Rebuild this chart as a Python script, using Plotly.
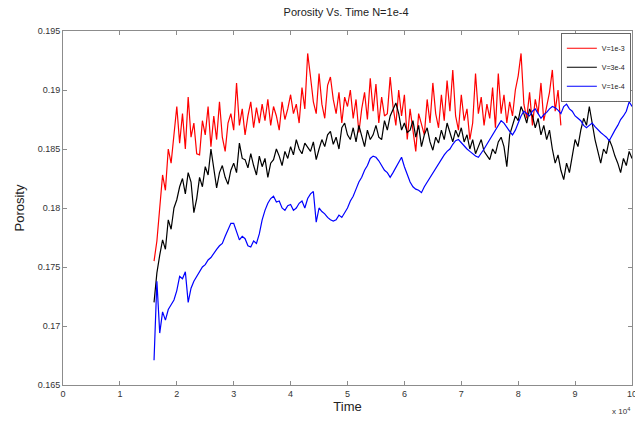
import numpy as np
import plotly.graph_objects as go

# Time grid (in units of 1e4), step 0.05
time_all = [round(1.60 + 0.05 * i, 2) for i in range(169)]   # 1.60 .. 10.00
time_red = time_all[:144]                                      # 1.60 .. 8.75

por_v1e3 = [
    0.1755, 0.1772, 0.1800, 0.1828, 0.1815, 0.1850, 0.1838, 0.1862,
    0.1886, 0.1855, 0.1880, 0.1850, 0.1894, 0.1860, 0.1872, 0.1846, 0.1845, 0.1874,
    0.1862, 0.1886, 0.1852, 0.1878, 0.1858, 0.1890, 0.1860, 0.1848, 0.1872, 0.1880,
    0.1866, 0.1906, 0.1870, 0.1884, 0.1862, 0.1878, 0.1890, 0.1868, 0.1885, 0.1872,
    0.1888, 0.1874, 0.1892, 0.1870, 0.1886, 0.1878, 0.1866, 0.1890, 0.1875, 0.1884,
    0.1896, 0.1880, 0.1888, 0.1872, 0.1902, 0.1884, 0.1931, 0.1911, 0.1890, 0.1880,
    0.1914, 0.1888, 0.1876, 0.1904, 0.1911, 0.1892, 0.1880, 0.1898, 0.1872, 0.1894,
    0.1886, 0.1900, 0.1876, 0.1892, 0.1864, 0.1884, 0.1898, 0.1875, 0.1910, 0.1882,
    0.1905, 0.1872, 0.1894, 0.1878, 0.1880, 0.1911, 0.1886, 0.1870, 0.1900, 0.1878,
    0.1896, 0.1858, 0.1884, 0.1866, 0.1848, 0.1880, 0.1870, 0.1862, 0.1892, 0.1872,
    0.1906, 0.1880, 0.1868, 0.1896, 0.1874, 0.1908, 0.1882, 0.1917, 0.1878, 0.1866,
    0.1896, 0.1874, 0.1884, 0.1858, 0.1872, 0.1914, 0.1880, 0.1894, 0.1870, 0.1888,
    0.1876, 0.1902, 0.1868, 0.1914, 0.1880, 0.1896, 0.1872, 0.1890, 0.1878, 0.1900,
    0.1912, 0.1931, 0.1888, 0.1876, 0.1898, 0.1870, 0.1892, 0.1880, 0.1906, 0.1874,
    0.1886, 0.1898, 0.1917, 0.1882, 0.1900, 0.1870,
]

por_v3e4 = [
    0.1720, 0.1745, 0.1760, 0.1773, 0.1765, 0.1790, 0.1782, 0.1800,
    0.1807, 0.1818, 0.1825, 0.1812, 0.1830, 0.1822, 0.1796, 0.1808, 0.1826, 0.1818,
    0.1835, 0.1828, 0.1850, 0.1832, 0.1817, 0.1830, 0.1836, 0.1826, 0.1820, 0.1832,
    0.1838, 0.1830, 0.1855, 0.1842, 0.1841, 0.1834, 0.1846, 0.1836, 0.1828, 0.1844,
    0.1835, 0.1842, 0.1826, 0.1838, 0.1841, 0.1850, 0.1844, 0.1836, 0.1848, 0.1842,
    0.1852, 0.1845, 0.1858, 0.1850, 0.1846, 0.1855, 0.1852, 0.1848, 0.1856, 0.1841,
    0.1850, 0.1858, 0.1852, 0.1862, 0.1865, 0.1854, 0.1860, 0.1850, 0.1868, 0.1872,
    0.1862, 0.1858, 0.1868, 0.1856, 0.1870, 0.1862, 0.1852, 0.1866, 0.1858, 0.1862,
    0.1870, 0.1860, 0.1858, 0.1874, 0.1866, 0.1878, 0.1883, 0.1889, 0.1880, 0.1866,
    0.1872, 0.1864, 0.1866, 0.1874, 0.1860, 0.1870, 0.1852, 0.1862, 0.1868, 0.1856,
    0.1849, 0.1860, 0.1855, 0.1866, 0.1858, 0.1872, 0.1864, 0.1856, 0.1866, 0.1860,
    0.1868, 0.1856, 0.1862, 0.1850, 0.1858, 0.1846, 0.1852, 0.1858, 0.1848, 0.1844,
    0.1841, 0.1850, 0.1846, 0.1856, 0.1860, 0.1852, 0.1835, 0.1862, 0.1870, 0.1878,
    0.1874, 0.1886, 0.1880, 0.1872, 0.1884, 0.1878, 0.1868, 0.1876, 0.1862, 0.1870,
    0.1858, 0.1866, 0.1850, 0.1838, 0.1845, 0.1832, 0.1824, 0.1838, 0.1830, 0.1846,
    0.1858, 0.1852, 0.1866, 0.1876, 0.1870, 0.1886, 0.1872, 0.1858, 0.1848, 0.1838,
    0.1850, 0.1846, 0.1858, 0.1852, 0.1844, 0.1838, 0.1830, 0.1842, 0.1836, 0.1848,
    0.1842,
]

por_v1e4 = [
    0.1671, 0.1738, 0.1694, 0.1712, 0.1705, 0.1714, 0.1718, 0.1722,
    0.1730, 0.1742, 0.1740, 0.1746, 0.1720, 0.1732, 0.1738, 0.1742, 0.1746, 0.1750,
    0.1752, 0.1756, 0.1758, 0.1762, 0.1765, 0.1768, 0.1770, 0.1776, 0.1782, 0.1787,
    0.1787, 0.1780, 0.1773, 0.1776, 0.1774, 0.1768, 0.1767, 0.1772, 0.1770, 0.1778,
    0.1790, 0.1798, 0.1804, 0.1808, 0.1810, 0.1805, 0.1806, 0.1800, 0.1798, 0.1802,
    0.1803, 0.1798, 0.1800, 0.1804, 0.1806, 0.1800, 0.1808, 0.1812, 0.1814, 0.1788,
    0.1800, 0.1797, 0.1795, 0.1792, 0.1790, 0.1789, 0.1790, 0.1794, 0.1792, 0.1796,
    0.1800, 0.1806, 0.1810, 0.1816, 0.1822, 0.1826, 0.1832, 0.1836, 0.1842, 0.1844,
    0.1843, 0.1840, 0.1836, 0.1832, 0.1830, 0.1826, 0.1830, 0.1834, 0.1838, 0.1843,
    0.1835, 0.1828, 0.1822, 0.1818, 0.1816, 0.1815, 0.1813, 0.1818, 0.1822, 0.1826,
    0.1830, 0.1834, 0.1838, 0.1841, 0.1845, 0.1848, 0.1850, 0.1854, 0.1857, 0.1858,
    0.1855, 0.1852, 0.1850, 0.1848, 0.1846, 0.1844, 0.1843, 0.1846, 0.1850, 0.1854,
    0.1858, 0.1862, 0.1866, 0.1870, 0.1874, 0.1872, 0.1868, 0.1865, 0.1862, 0.1866,
    0.1872, 0.1878, 0.1882, 0.1880, 0.1878, 0.1882, 0.1884, 0.1880, 0.1876, 0.1879,
    0.1881, 0.1884, 0.1886, 0.1885, 0.1883, 0.1880, 0.1886, 0.1888, 0.1884, 0.1882,
    0.1878, 0.1876, 0.1874, 0.1870, 0.1868, 0.1870, 0.1872, 0.1869, 0.1866, 0.1864,
    0.1862, 0.1860, 0.1857, 0.1862, 0.1866, 0.1870, 0.1875, 0.1878, 0.1882, 0.1890,
    0.1886,
]

series_names = ["V=1e-3", "V=3e-4", "V=1e-4"]
series_colors = ["#ff0000", "#000000", "#0000ff"]
series_x = [time_red, time_all, time_all]
series_y = [por_v1e3, por_v3e4, por_v1e4]

x_ticks = list(range(0, 11))
y_ticks = [0.165, 0.17, 0.175, 0.18, 0.185, 0.19, 0.195]
y_tick_text = ["0.165", "0.17", "0.175", "0.18", "0.185", "0.19", "0.195"]

fig = go.Figure()
for name, col, xs, ys in zip(series_names, series_colors, series_x, series_y):
    fig.add_trace(go.Scatter(x=xs, y=ys, mode="lines", name=name,
                             line=dict(color=col, width=1.2)))

axis_common = dict(showline=True, linecolor="#8c8c8c", linewidth=1, mirror="ticks",
                   ticks="inside", ticklen=4, tickcolor="#8c8c8c", automargin=False,
                   showgrid=False, zeroline=False, ticklabeloverflow="allow",
                   tickfont=dict(size=9, color="#333333", family="Liberation Sans, Arial"))

fig.update_xaxes(range=[0, 10], tickvals=x_ticks, **axis_common,
                 title=dict(text="Time", font=dict(size=13, color="#222222"), standoff=4))
fig.update_yaxes(range=[0.165, 0.195], tickvals=y_ticks, ticktext=y_tick_text, **axis_common,
                 title=dict(text="Porosity", font=dict(size=13, color="#222222"), standoff=10))

fig.update_layout(
    width=635, height=425,
    margin=dict(l=63, r=3, t=31, b=40),
    paper_bgcolor="white", plot_bgcolor="white",
    font=dict(family="Liberation Sans, Arial", color="#222222"),
    title=dict(text="Porosity Vs. Time N=1e-4", x=0.545, xanchor="center",
               y=0.972, yanchor="middle", font=dict(size=11)),
    showlegend=True,
    legend=dict(x=0.998, y=0.995, xanchor="right", yanchor="top",
                bgcolor="white", bordercolor="#666666", borderwidth=1,
                font=dict(size=7), tracegroupgap=0, itemwidth=30),
    annotations=[dict(text="x 10<sup>4</sup>", x=1.0, y=-0.055, xref="paper", yref="paper",
                      xanchor="right", yanchor="top", showarrow=False,
                      font=dict(size=8, color="#333333"))],
)

fig.write_html("out.html", config={"displayModeBar": False},
               post_script="document.body.style.margin='0';document.body.style.overflow='hidden';")
